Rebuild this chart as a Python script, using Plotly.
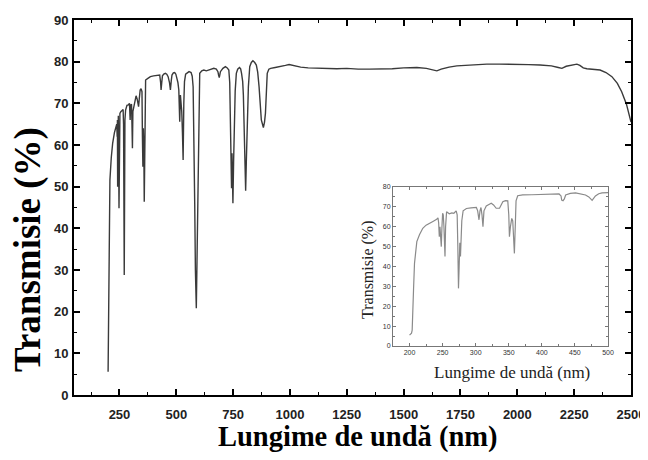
import plotly.graph_objects as go

# Main spectrum: wavelength (nm) vs transmission (%)
wl_main = [200, 204, 208, 214, 220, 228, 235, 238, 240, 241, 242, 243, 245, 248, 250, 252, 256, 262, 266, 268,
           271, 274, 277, 283, 289, 294, 297, 299, 303, 305, 307, 309, 314, 318, 323, 328, 332, 334, 337, 341,
           345, 349, 351, 353, 355, 357, 359, 362, 365, 375, 386, 400, 415, 427, 431, 433, 436, 439, 445, 452,
           458, 464, 470, 474, 478, 481, 487, 493, 498, 503, 507, 511, 513, 515, 518, 521, 524, 527, 530, 533,
           536, 541, 548, 556, 565, 570, 574, 578, 581, 584, 588, 591, 594, 598, 603, 612, 621, 632, 643, 655,
           665, 676, 683, 686, 689, 692, 694, 705, 716, 724, 731, 735, 739, 741, 743, 745, 747, 749, 752, 755,
           759, 764, 770, 778, 783, 787, 790, 792, 795, 798, 801, 805, 808, 812, 817, 823, 830, 837, 845, 852,
           858, 864, 869, 874, 883, 888, 892, 896, 900, 907, 915, 935, 959, 980, 996, 1020, 1047, 1080, 1120, 1160,
           1206, 1250, 1300, 1350, 1396, 1450, 1500, 1558, 1600, 1630, 1646, 1665, 1700, 1734, 1780, 1820, 1866, 1920, 1998, 2050,
           2100, 2150, 2180, 2196, 2215, 2240, 2262, 2275, 2290, 2306, 2340, 2364, 2390, 2416, 2440, 2459, 2480, 2496, 2500]
t_main = [5.6, 34, 51.6, 57, 60.4, 63, 64.6, 65, 62, 66, 50, 66, 67, 44.8, 66, 67.6, 68, 68.4, 68.5, 65,
          28.8, 66, 68.4, 69.5, 69.6, 70, 66, 69.6, 69.8, 65, 59.2, 68, 69.2, 70.5, 71.8, 71, 70, 69.2, 71, 73.2,
          73.5, 72.8, 62, 54.8, 64, 60, 46.4, 70, 75.6, 76, 76.4, 76.6, 76.8, 76.8, 75, 73.2, 75, 76.6, 77, 77.2,
          77, 76.4, 75, 73.2, 75.5, 76.8, 77.3, 77.4, 77, 76, 75, 73.2, 70, 65.6, 72, 70, 68, 63, 56.4, 70,
          75.2, 77, 77.4, 77.6, 77.4, 76.5, 74, 62, 46, 30, 20.8, 32, 46, 65, 77.2, 77.8, 78, 77.8, 78, 78.2,
          78.4, 78.2, 77.6, 76.8, 76.2, 77, 77.6, 78.4, 78.8, 78.5, 78, 75, 66, 57, 49.6, 58, 50, 46, 56, 66,
          73, 77.2, 78.2, 78.6, 78.3, 77.2, 76, 75.2, 72, 64.4, 56, 49, 56, 66, 74, 78.8, 79.8, 80.2, 79.8, 79.2,
          77.5, 74, 69, 66, 64.2, 65.5, 67.6, 72, 77.2, 78.2, 78.4, 78.6, 78.8, 79.1, 79.3, 79, 78.7, 78.5, 78.4, 78.3,
          78.3, 78.4, 78.2, 78.2, 78.2, 78.3, 78.5, 78.6, 78.4, 78.1, 77.8, 78.2, 78.7, 79, 79.2, 79.3, 79.4, 79.4, 79.4, 79.3,
          79.2, 79, 78.6, 78.4, 78.9, 79.2, 79.4, 79.1, 78.5, 78.3, 78.1, 78, 77.4, 76.4, 74.8, 72.8, 69.8, 66.4, 65.5]

# Inset: UV region detail
wl_inset = [200, 203, 204, 205, 206, 207.5, 209, 211, 215, 220, 225, 231, 236, 241, 243, 244, 245, 246, 247, 248,
            249, 250, 251, 252, 253.6, 254.5, 256, 258, 260, 264, 267, 270.5, 272, 273, 274, 275, 276, 277, 278, 279,
            281, 286, 293, 301, 303, 305, 306.5, 308, 309.5, 311, 312.5, 316, 320, 323.5, 327, 331, 336, 338, 341, 345,
            348.5, 350, 351, 352.5, 354.5, 356, 357, 358.5, 360, 361, 363.5, 371, 385, 396, 410, 426, 429, 430, 432, 434,
            436, 443, 451, 458, 466, 471, 476, 481, 486, 491, 496, 500]
t_inset = [5.5, 6.5, 8, 15, 28, 41.6, 48, 52.5, 56, 59.2, 60.8, 61.7, 62.8, 63.7, 64.5, 62, 55, 60, 56, 50,
           60, 66.8, 66, 60, 45, 60, 67.5, 67, 66.5, 67, 66.8, 68, 66, 50, 29, 40, 52, 45, 60, 63,
           68, 69.2, 69.5, 69.7, 68, 63.5, 68, 69.7, 66, 60, 68, 70.5, 71.2, 71.8, 71, 69.3, 69.3, 70.5, 72.6, 73.1,
           73, 66, 55, 60, 64.2, 63, 58, 46.6, 62, 73, 75.6, 76, 76.1, 76.2, 76.4, 76.5, 75.5, 73.4, 73.1, 74,
           76, 76.8, 77, 76.6, 76, 75, 73.3, 75.5, 76.6, 77, 77.3, 77.2]

main_x_title = "Lungime de undă (nm)"
main_y_title = "Transmisie (%)"
inset_x_title = "Lungime de undă (nm)"
inset_y_title = "Transmisie (%)"

# The page body has an 8px margin, so the figure is drawn 8px in from the window corner.
OFF = 8
W, H = 648 - OFF, 460 - OFF
# plot area in window pixels: left 74, right 631, top 20, bottom 395
L, R, T, B = 74 - OFF, 648 - 631, 20 - OFF, 460 - 395
pw, ph = W - L - R, H - T - B

def px(x):
    return (x - OFF - L) / pw

def py(y):
    return (H - B - (y - OFF)) / ph

fig = go.Figure()
fig.add_trace(go.Scatter(x=wl_main, y=t_main, mode="lines",
                         line=dict(color="#3a3a3a", width=1.4), showlegend=False, hoverinfo="skip"))
fig.add_trace(go.Scatter(x=wl_inset, y=t_inset, mode="lines", xaxis="x2", yaxis="y2",
                         line=dict(color="#8a8a8a", width=1.2), showlegend=False, hoverinfo="skip"))

main_tick_font = dict(family="Liberation Sans", size=13, color="#222")
axis_common = dict(showline=True, linecolor="black", linewidth=2, mirror="allticks",
                   ticks="inside", ticklen=6, tickwidth=1.6, tickcolor="black",
                   showgrid=False, zeroline=False, tickfont=main_tick_font, automargin=False)
inset_common = dict(showline=True, linecolor="#777", linewidth=1, mirror="allticks",
                    ticks="inside", ticklen=3, tickwidth=1, tickcolor="#777",
                    showgrid=False, zeroline=False, automargin=False,
                    tickfont=dict(family="Liberation Sans", size=7, color="#333"))

fig.update_layout(
    template="none",
    width=W, height=H,
    margin=dict(l=L, r=R, t=T, b=B, autoexpand=False),
    paper_bgcolor="white", plot_bgcolor="white",
    xaxis=dict(range=[50, 2500], tick0=0, dtick=250, domain=[0, 1], ticklabelstandoff=6,
               minor=dict(dtick=125, tick0=0, ticks="inside", ticklen=3, tickwidth=1.2, tickcolor="black"),
               tickprefix="<b>", ticksuffix="</b>", **axis_common),
    yaxis=dict(range=[0, 90], tick0=0, dtick=10, domain=[0, 1], ticklabelstandoff=1,
               minor=dict(dtick=5, tick0=0, ticks="inside", ticklen=3, tickwidth=1.2, tickcolor="black"),
               tickprefix="<b>", ticksuffix="</b>", **axis_common),
    xaxis2=dict(range=[175, 500], tick0=0, dtick=50, domain=[px(393), px(608)], anchor="y2",
                minor=dict(dtick=25, tick0=0, ticks="inside", ticklen=2, tickwidth=1, tickcolor="#777"),
                **inset_common),
    yaxis2=dict(range=[0, 80], tick0=0, dtick=10, domain=[py(346), py(187)], anchor="x2",
                minor=dict(dtick=5, tick0=0, ticks="inside", ticklen=2, tickwidth=1, tickcolor="#777"),
                **inset_common),
)

fig.add_annotation(text="<b>" + main_x_title + "</b>", xref="paper", yref="paper",
                   x=px(358), y=py(437), showarrow=False,
                   font=dict(family="Liberation Serif", size=28.5, color="black"),
                   xanchor="center", yanchor="middle")
fig.add_annotation(text="<b>" + main_y_title + "</b>", xref="paper", yref="paper",
                   x=px(28), y=py(250), showarrow=False,
                   font=dict(family="Liberation Serif", size=37, color="black"), textangle=-90,
                   xanchor="center", yanchor="middle")
fig.add_annotation(text=inset_x_title, xref="paper", yref="paper",
                   x=px(512), y=py(372), showarrow=False,
                   font=dict(family="Liberation Serif", size=17, color="#222"),
                   xanchor="center", yanchor="middle")
fig.add_annotation(text=inset_y_title, xref="paper", yref="paper",
                   x=px(368), y=py(270), showarrow=False,
                   font=dict(family="Liberation Serif", size=16, color="#222"), textangle=-90,
                   xanchor="center", yanchor="middle")

fig.write_html("out.html")
